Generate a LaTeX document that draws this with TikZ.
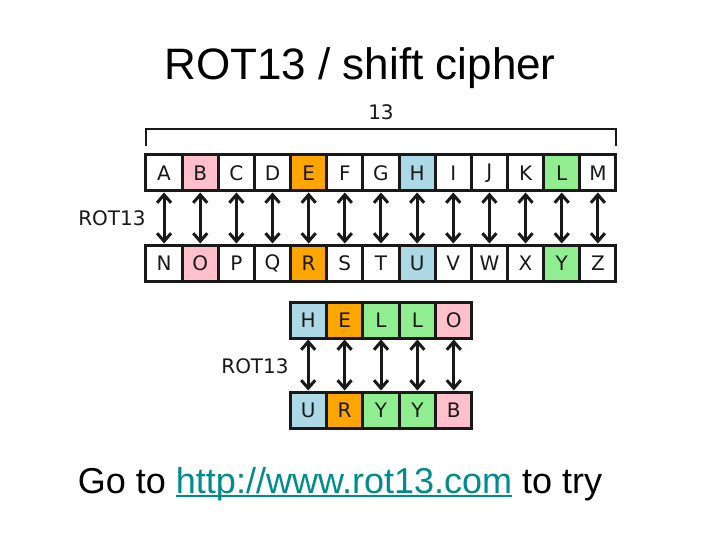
\documentclass[tikz,border=0pt]{standalone}
\usepackage{fontspec}
\usepackage{xcolor}
\usepackage{tikz}
\usetikzlibrary{arrows.meta}
\setmainfont{Liberation Sans}
\newfontfamily\dejavu{DejaVu Sans}
\definecolor{rotpink}{RGB}{255,192,203}
\definecolor{rotorange}{RGB}{255,165,0}
\definecolor{rotblue}{RGB}{173,216,230}
\definecolor{rotgreen}{RGB}{144,238,144}
\definecolor{rotedge}{RGB}{25,25,25}
\definecolor{rotlink}{RGB}{0,140,140}
\newcommand\linkul[1]{\setbox0\hbox{#1}\rlap{\rule[-3.5pt]{\wd0}{2pt}}\box0}

\tikzset{
  cell/.style={draw=rotedge,line width=3pt,minimum width=36.2pt,minimum height=36pt,
    inner sep=0pt,font=\dejavu\fontsize{20}{22}\selectfont,text=rotedge},
  swap/.style={line width=3pt,rotedge,{Straight Barb[length=8pt,width=14pt]}-{Straight Barb[length=8pt,width=14pt]}},
  lbl/.style={font=\dejavu\fontsize{20}{22}\selectfont,text=rotedge}
}

\begin{document}
\begin{tikzpicture}[x=1pt,y=-1pt]
  \useasboundingbox[fill=white](0,0)rectangle(720,540);
  \node[font=\fontsize{44}{50}\selectfont] (title) at (360,68) {ROT13 / shift cipher};

  % alphabet
  \foreach \l/\c [count=\i] in {A/white,B/rotpink,C/white,D/white,E/rotorange,F/white,G/white,H/rotblue,I/white,J/white,K/white,L/rotgreen,M/white}
    \node[cell,fill=\c] (t\i) at ({146+36.15*(\i-0.5)},173) {\l};
  \foreach \l/\c [count=\i] in {N/white,O/rotpink,P/white,Q/white,R/rotorange,S/white,T/white,U/rotblue,V/white,W/white,X/white,Y/rotgreen,Z/white}
    \node[cell,fill=\c] (b\i) at ({146+36.15*(\i-0.5)},263) {\l};
  \foreach \i in {1,...,13}
    \draw[swap](t\i.south)--(b\i.north);

  \coordinate (bl) at (146,146); \coordinate (br) at (616,146);
  \draw[rotedge,line width=1.6pt](bl)--++(0,-17)-|(br);
  \node[lbl] (shift) at (381,112) {13};
  \node[lbl] (rotA) at (112,218) {ROT13};

  % hello
  \foreach \l/\c [count=\i] in {H/rotblue,E/rotorange,L/rotgreen,L/rotgreen,O/rotpink}
    \node[cell,fill=\c] (h\i) at ({290+36.4*(\i-0.5)},320) {\l};
  \foreach \l/\c [count=\i] in {U/rotblue,R/rotorange,Y/rotgreen,Y/rotgreen,B/rotpink}
    \node[cell,fill=\c] (u\i) at ({290+36.4*(\i-0.5)},410) {\l};
  \foreach \i in {1,...,5}
    \draw[swap](h\i.south)--(u\i.north);
  \node[lbl] (rotB) at (255,366) {ROT13};

  \node[font=\fontsize{36}{40}\selectfont] (try) at (340,484)
    {Go to \textcolor{rotlink}{\linkul{http://www.rot13.com}} to try};
\end{tikzpicture}
\end{document}
